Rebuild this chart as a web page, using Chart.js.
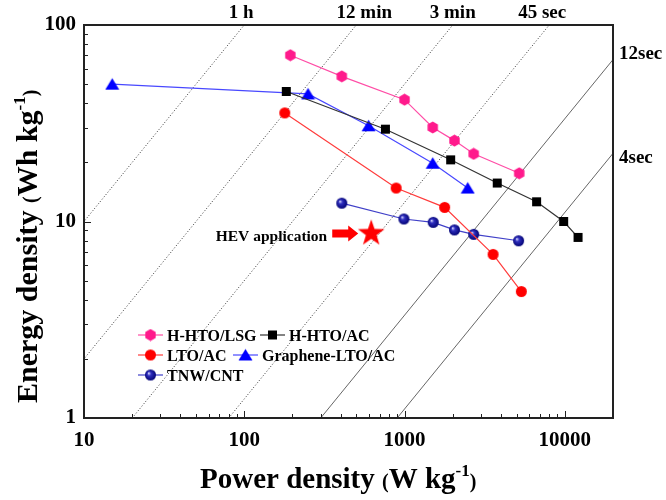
<!DOCTYPE html>
<html>
<head>
<meta charset="utf-8">
<script src="https://cdn.jsdelivr.net/npm/chart.js@4/dist/chart.umd.min.js"></script>
<style>
  body { margin: 0; background: #fff; }
  .chart-container { width: 666px; height: 500px; }
</style>
</head>
<body>
<div class="chart-container"><canvas id="ragone"></canvas></div>
<script>
// power density (W/kg) and energy density (Wh/kg)
const htoLsgPower = [194, 406, 1000, 1500, 2050, 2700, 5200];
const htoLsgEnergy = [70.2, 54.8, 41.7, 30.1, 25.8, 22.1, 17.6];
const htoAcPower = [183, 760, 1940, 3790, 6670, 9840, 12100];
const htoAcEnergy = [45.9, 29.5, 20.6, 15.7, 12.6, 10.0, 8.3];
const ltoAcPower = [179, 887, 1780, 3570, 5360];
const ltoAcEnergy = [35.7, 14.8, 11.8, 6.8, 4.4];
const grapheneLtoPower = [15, 250, 597, 1500, 2480];
const grapheneLtoEnergy = [50, 44.6, 30.7, 19.8, 14.8];
const tnwCntPower = [406, 991, 1510, 2050, 2700, 5150];
const tnwCntEnergy = [12.4, 10.3, 9.9, 9.06, 8.6, 7.98];
const hevPower = [620];
const hevEnergy = [8.7];

// constant discharge time lines: power where each one crosses 1 and 100 Wh/kg
const timeLabels = ['1 h', '12 min', '3 min', '45 sec', '12sec', '4sec'];
const timePowerAt1 = [1, 5, 20, 80, 300, 900];
const timePowerAt100 = [100, 500, 2000, 8000, 30000, 90000];

const xTicks = [10, 100, 1000, 10000];
const yTicks = [1, 10, 100];

const serif = '"Liberation Serif", "Times New Roman", serif';

function pts(xs, ys) {
    return xs.map((v, i) => ({x: v, y: ys[i]}));
}

// little canvases used as point styles
function markerCanvas(size, draw) {
    let c = document.createElement('canvas');
    c.width = size;
    c.height = size;
    draw(c.getContext('2d'), size / 2);
    return c;
}

const hexagon = markerCanvas(13, (g, m) => {
    g.beginPath();
    for (let i = 0; i < 6; i++) {
        let a = -Math.PI / 2 + i * Math.PI / 3;
        g.lineTo(m + 6 * Math.cos(a), m + 6 * Math.sin(a));
    }
    g.closePath();
    g.fillStyle = '#ff1a8c';
    g.fill();
});
const square = markerCanvas(11, (g) => {
    g.fillStyle = '#000';
    g.fillRect(1, 1, 9, 9);
});
const triangle = markerCanvas(15, (g, m) => {
    g.beginPath();
    g.moveTo(m, 1.5);
    g.lineTo(m + 7, 13);
    g.lineTo(m - 7, 13);
    g.closePath();
    g.fillStyle = '#0000ff';
    g.fill();
});
const redDot = markerCanvas(13, (g, m) => {
    g.beginPath();
    g.arc(m, m, 5.5, 0, Math.PI * 2);
    g.fillStyle = '#ff0000';
    g.fill();
});
const sphere = markerCanvas(13, (g, m) => {
    let grad = g.createRadialGradient(m - 1.8, m - 1.8, 0.3, m, m, 5.8);
    grad.addColorStop(0, '#d8d8ff');
    grad.addColorStop(0.3, '#3030c0');
    grad.addColorStop(1, '#000070');
    g.beginPath();
    g.arc(m, m, 5.5, 0, Math.PI * 2);
    g.fillStyle = grad;
    g.fill();
});
const star = markerCanvas(30, (g, m) => {
    g.beginPath();
    for (let i = 0; i < 10; i++) {
        let r = i % 2 ? 5.6 : 14;
        let a = -Math.PI / 2 + i * Math.PI / 5;
        g.lineTo(m + r * Math.cos(a), m + r * Math.sin(a));
    }
    g.closePath();
    g.fillStyle = '#ff0000';
    g.fill();
});

function series(label, xs, ys, lineColor, marker) {
    return {
        label: label,
        data: pts(xs, ys),
        showLine: true,
        borderColor: lineColor,
        borderWidth: 1.2,
        pointStyle: marker,
        pointRadius: 6,
        order: 1
    };
}

let datasets = [
    series('H-HTO/LSG', htoLsgPower, htoLsgEnergy, '#ff4da6', hexagon),
    series('H-HTO/AC', htoAcPower, htoAcEnergy, '#333333', square),
    series('LTO/AC', ltoAcPower, ltoAcEnergy, '#ff3b3b', redDot),
    series('Graphene-LTO/AC', grapheneLtoPower, grapheneLtoEnergy, '#4848ff', triangle),
    series('TNW/CNT', tnwCntPower, tnwCntEnergy, '#4040c8', sphere),
    {label: 'HEV', data: pts(hevPower, hevEnergy), showLine: false, pointStyle: star, pointRadius: 12, order: 1}
];
timeLabels.forEach((t, i) => {
    datasets.push({
        label: t,
        data: [{x: timePowerAt1[i], y: 1}, {x: timePowerAt100[i], y: 100}],
        showLine: true,
        borderColor: i < 4 ? '#333' : '#666',
        borderWidth: 1,
        borderDash: i < 4 ? [1, 2] : [],
        pointRadius: 0,
        order: 5
    });
});

function drawRich(ctx, parts) {
    let cx = 0;
    for (const [t, size, rise] of parts) {
        ctx.font = 'bold ' + size + 'px ' + serif;
        ctx.fillText(t, cx, -(rise || 0));
        cx += ctx.measureText(t).width;
    }
}

function boldText(ctx, text, x, y, size, align) {
    ctx.font = 'bold ' + size + 'px ' + serif;
    ctx.textAlign = align;
    ctx.fillText(text, x, y);
}

const decorations = {
    id: 'decorations',
    afterDatasetsDraw(chart) {
        const {ctx, chartArea: a, scales: {x, y}} = chart;
        ctx.save();
        ctx.fillStyle = '#000';

        // minor + major ticks on the inside
        ctx.strokeStyle = '#222';
        ctx.lineWidth = 1;
        ctx.beginPath();
        for (let d = 1; d <= 10000; d *= 10) {
            for (let k = 1; k < 10; k++) {
                let v = d * k;
                let len = k === 1 ? 7 : 4;
                if (v >= x.min && v <= x.max) {
                    let px = Math.round(x.getPixelForValue(v)) + 0.5;
                    ctx.moveTo(px, a.bottom);
                    ctx.lineTo(px, a.bottom - len);
                }
                if (v >= y.min && v <= y.max) {
                    let py = Math.round(y.getPixelForValue(v)) + 0.5;
                    ctx.moveTo(a.left, py);
                    ctx.lineTo(a.left + len, py);
                }
            }
        }
        ctx.stroke();
        ctx.lineWidth = 2;
        ctx.strokeStyle = '#222';
        ctx.strokeRect(a.left, a.top, a.right - a.left, a.bottom - a.top);

        // labels of the time lines
        const topDx = [-3, 8, 0, -7];
        for (let i = 0; i < 4; i++) {
            let px = x.getPixelForValue(timePowerAt100[i]) + topDx[i];
            boldText(ctx, timeLabels[i], px, 18, 19, 'center');
        }
        const sideDy = [-1, 10];
        for (let i = 4; i < 6; i++) {
            let eAtRight = 100 * x.max / timePowerAt100[i];
            let py = y.getPixelForValue(eAtRight) + sideDy[i - 4];
            boldText(ctx, timeLabels[i], a.right + 6, py, 19, 'left');
        }

        // HEV arrow and label
        let sx = x.getPixelForValue(hevPower[0]);
        let sy = y.getPixelForValue(hevEnergy[0]);
        let tip = sx - 13, tail = sx - 39, ay = sy;
        ctx.beginPath();
        ctx.moveTo(tail, ay - 4);
        ctx.lineTo(tip - 10, ay - 4);
        ctx.lineTo(tip - 10, ay - 8);
        ctx.lineTo(tip, ay);
        ctx.lineTo(tip - 10, ay + 8);
        ctx.lineTo(tip - 10, ay + 4);
        ctx.lineTo(tail, ay + 4);
        ctx.closePath();
        ctx.fillStyle = '#ff0000';
        ctx.fill();
        ctx.fillStyle = '#000';
        boldText(ctx, 'HEV application', tail - 5, sy + 8, 15.5, 'right');

        // legend
        const legendSpots = [[138, 335], [260, 335], [138, 355], [233, 355], [138, 375]];
        legendSpots.forEach(([lx, ly], i) => {
            let ds = chart.data.datasets[i];
            ctx.strokeStyle = ds.borderColor;
            ctx.lineWidth = 1.2;
            ctx.beginPath();
            ctx.moveTo(lx, ly);
            ctx.lineTo(lx + 25, ly);
            ctx.stroke();
            let m = ds.pointStyle;
            ctx.drawImage(m, lx + 12.5 - m.width / 2, ly - m.height / 2);
            boldText(ctx, ds.label, lx + 29, ly + 5.5, 16, 'left');
        });

        // axis titles
        ctx.fillStyle = '#000';
        ctx.textAlign = 'left';
        ctx.save();
        ctx.translate(200, 488);
        drawRich(ctx, [['Power density ', 29], ['(', 20], ['W kg', 29], ['-1', 17, 12], [')', 20]]);
        ctx.restore();

        ctx.save();
        ctx.translate(37, 403);
        ctx.rotate(-Math.PI / 2);
        drawRich(ctx, [['Energy density ', 30], ['(', 20], ['Wh kg', 30], ['-1', 17, 12], [')', 20]]);
        ctx.restore();

        ctx.restore();
    }
};

const tickFont = {family: serif, weight: 'bold', size: 21};

new Chart(document.getElementById('ragone').getContext('2d'), {
    type: 'scatter',
    data: {datasets: datasets},
    options: {
        responsive: true,
        maintainAspectRatio: false,
        animation: false,
        events: [],
        layout: {padding: {top: 25, right: 53, left: 0, bottom: 0}},
        scales: {
            x: {
                type: 'logarithmic',
                min: 10,
                max: 20000,
                grid: {display: false, drawTicks: false},
                border: {display: false},
                afterBuildTicks: s => { s.ticks = xTicks.map(v => ({value: v})); },
                afterFit: s => { s.height = 82; },
                ticks: {
                    autoSkip: false,
                    maxRotation: 0,
                    padding: 10,
                    color: '#000',
                    font: tickFont,
                    callback: v => String(v)
                }
            },
            y: {
                type: 'logarithmic',
                min: 1,
                max: 100,
                grid: {display: false, drawTicks: false},
                border: {display: false},
                afterBuildTicks: s => { s.ticks = yTicks.map(v => ({value: v})); },
                afterFit: s => { s.width = 84; },
                ticks: {
                    autoSkip: false,
                    padding: 8,
                    color: '#000',
                    font: tickFont,
                    callback: v => String(v)
                }
            }
        },
        plugins: {
            legend: {display: false},
            tooltip: {enabled: false}
        }
    },
    plugins: [decorations]
});
</script>
</body>
</html>
